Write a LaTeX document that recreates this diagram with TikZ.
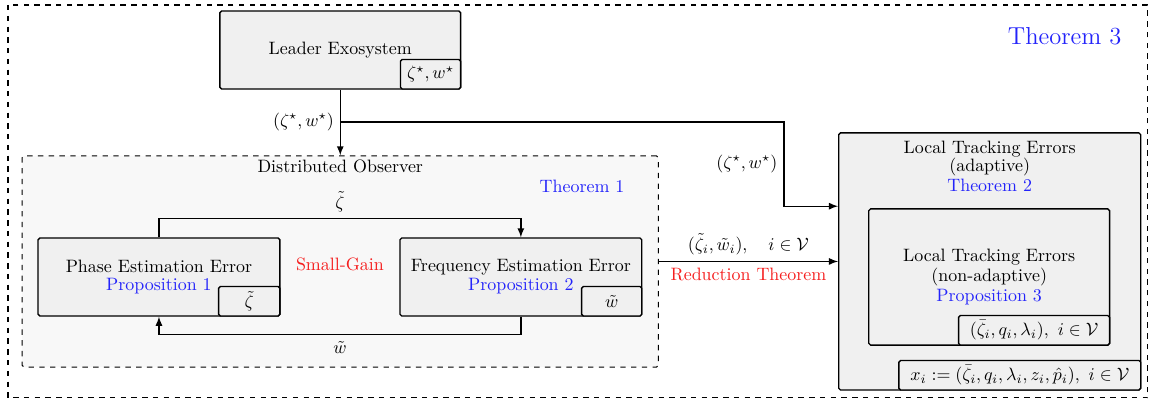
\documentclass[tikz,border=0pt]{standalone}
\usetikzlibrary{calc}
\definecolor{thm-blue}{RGB}{35,35,250}
\definecolor{gain-red}{RGB}{245,30,30}
\definecolor{box-grey}{RGB}{240,240,240}
\definecolor{obs-grey}{RGB}{248,248,248}

\begin{document}
\begin{tikzpicture}[>=latex,
  blk/.style={draw, line width=0.75pt, rounded corners=1pt, fill=box-grey, align=center},
  tag/.style={blk, anchor=south east, minimum height=0.58cm, inner sep=2pt},
  conn/.style={->, line width=0.75pt}]
\useasboundingbox (0,0) rectangle (22.66,-7.94);
%Rahmen Theorem 3:
\draw[dashed, line width=0.6pt] (0.157,-0.098) rectangle (22.50,-7.80);
\node[thm-blue, font=\fontsize{13.7}{16}\selectfont] (thm3) at (20.87,-0.71) {Theorem 3};

%Leader:
\node[blk, minimum width=4.72cm, minimum height=1.53cm] (leader) at (6.67,-0.98) {Leader Exosystem};
\node[tag, minimum width=1.18cm] (leader-tag) at (leader.south east) {$\zeta^\star,w^\star$};

%Distributed Observer:
\node[draw, dashed, line width=0.6pt, rounded corners=1pt, fill=obs-grey, minimum width=12.47cm, minimum height=4.14cm] (observer) at (6.67,-5.125) {};
\node[anchor=north, inner sep=2.5pt] (observer-title) at (observer.north) {Distributed Observer};
\node[thm-blue] (thm1) at (11.41,-3.65) {Theorem 1};
\node[blk, minimum width=4.74cm, minimum height=1.53cm] (phase) at (3.116,-5.43) {Phase Estimation Error\\[-1.5pt]\textcolor{thm-blue}{Proposition 1}};
\node[tag, minimum width=1.2cm] (phase-tag) at (phase.south east) {$\tilde\zeta$};
\node[blk, minimum width=4.74cm, minimum height=1.53cm] (freq) at (10.21,-5.43) {Frequency Estimation Error\\[-1.5pt]\textcolor{thm-blue}{Proposition 2}};
\node[tag, minimum width=1.18cm] (freq-tag) at (freq.south east) {$\tilde w$};
\node[gain-red] (gain) at ($(phase.east)!0.5!(freq.west)+(0,0.24)$) {Small-Gain};
\draw[conn] (phase.north) -- ++(0,0.37) -| node[pos=0.25,above] (zeta-label) {$\tilde\zeta$} (freq.north);
\draw[conn] (freq.south) -- ++(0,-0.35) -| node[pos=0.25,below] (w-label) {$\tilde w$} (phase.south);

%Local Tracking Errors:
\node[blk, minimum width=5.92cm, minimum height=5.04cm] (lte) at (19.40,-5.125) {};
\node[anchor=north, align=center, inner sep=5pt] (lte-title) at (lte.north) {Local Tracking Errors\\[-2pt](adaptive)\\[-1pt]\textcolor{thm-blue}{Theorem 2}};
\node[blk, minimum width=4.72cm, minimum height=2.67cm] (ltena) at (19.39,-5.43) {Local Tracking Errors\\[-1pt](non-adaptive)\\[-1pt]\textcolor{thm-blue}{Proposition 3}};
\node[tag, minimum width=2.96cm] (ltena-tag) at (ltena.south east) {$(\bar\zeta_i,q_i,\lambda_i),\ i\in\mathcal{V}$};
\node[tag, minimum width=4.74cm] (lte-tag) at (lte.south east) {$x_i:=(\bar\zeta_i,q_i,\lambda_i,z_i,\hat p_i),\ i\in\mathcal{V}$};

%Verbindungen:
\draw[conn] (leader.south) -- (observer.north);
\coordinate (split) at ($(leader.south)!0.49!(observer.north)$);
\node[left] (split-label) at (split) {$(\zeta^\star,w^\star)$};
\coordinate (lte-in) at ($(lte.north west)+(0,-1.45)$);
\draw[conn] (split) -| ($(lte-in)+(-1.06,0)$) node[pos=0.75,left] (lte-in-label) {$(\zeta^\star,w^\star)$} -- (lte-in);
\draw[conn] (observer.east) -- (lte.west) node[midway,above] (red-label) {$(\tilde\zeta_i,\tilde w_i),\quad i\in\mathcal{V}$} node[midway,below,gain-red] (red-thm) {Reduction Theorem};
\end{tikzpicture}
\end{document}
